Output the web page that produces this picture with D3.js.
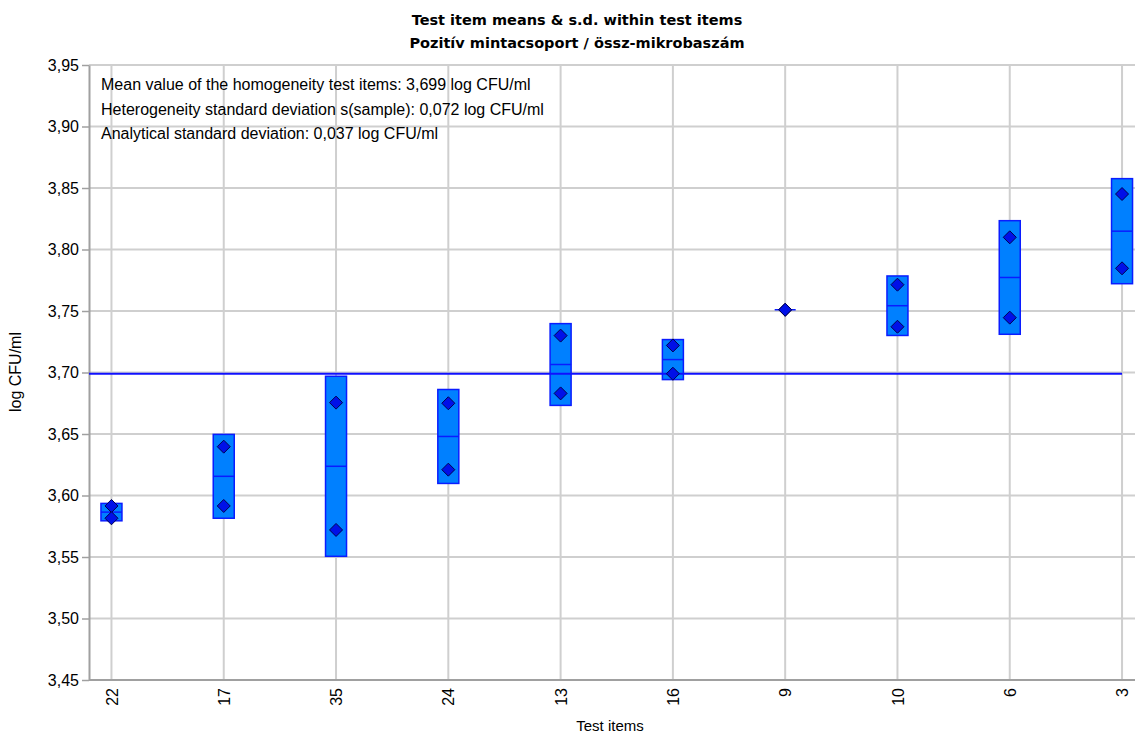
<!DOCTYPE html>
<html>
<head>
<meta charset="utf-8">
<script src="https://cdn.jsdelivr.net/npm/d3@7"></script>
<style>
  html, body { margin: 0; padding: 0; background: #fff; }
  svg { display: block; font-family: "Liberation Sans", Arial, sans-serif; }
</style>
</head>
<body>
<svg id="chart" width="1135" height="733"></svg>
<script>
// Test items in plotting order, with the two replicate results of each (log CFU/ml)
const items = ["22", "17", "35", "24", "13", "16", "9", "10", "6", "3"];
const replicateA = [3.5915, 3.6397, 3.6755, 3.675, 3.730, 3.722, 3.751, 3.7714, 3.8099, 3.8451];
const replicateB = [3.5815, 3.5915, 3.572, 3.621, 3.683, 3.699, 3.751, 3.7372, 3.7446, 3.7847];
const overallMean = 3.699;
const yTicks = [3.45, 3.50, 3.55, 3.60, 3.65, 3.70, 3.75, 3.80, 3.85, 3.90, 3.95];
const infoLines = [
  "Mean value of the homogeneity test items: 3,699 log CFU/ml",
  "Heterogeneity standard deviation s(sample): 0,072 log CFU/ml",
  "Analytical standard deviation: 0,037 log CFU/ml"
];
const titleLines = ["Test item means & s.d. within test items", "Pozitív mintacsoport / össz-mikrobaszám"];

const svg = d3.select("#chart");
const plotLeft = 89, plotRight = 1144.5, plotTop = 65, plotBottom = 680;

const x = d3.scalePoint().domain(items).range([plotLeft, plotRight]).padding(0.2);
const y = d3.scaleLinear().domain([3.45, 3.95]).range([plotBottom, plotTop]);
const fmt = v => d3.format(".2f")(v).replace(".", ",");

// per-item mean and standard deviation of the replicates
const stats = items.map((id, i) => {
  const vals = [replicateA[i], replicateB[i]];
  return { id, vals, mean: d3.mean(vals), sd: d3.deviation(vals) || 0 };
});

// grid
svg.append("g").selectAll("line").data(yTicks).join("line")
  .attr("x1", plotLeft).attr("x2", plotRight)
  .attr("y1", d => y(d)).attr("y2", d => y(d))
  .attr("stroke", "#cfcfcf").attr("stroke-width", 2);
svg.append("g").selectAll("line").data(items).join("line")
  .attr("x1", d => x(d)).attr("x2", d => x(d))
  .attr("y1", plotTop).attr("y2", plotBottom)
  .attr("stroke", "#cfcfcf").attr("stroke-width", 2);

// y axis
const yAxis = svg.append("g").attr("transform", `translate(${plotLeft},0)`)
  .call(d3.axisLeft(y).tickValues(yTicks).tickFormat(fmt).tickSizeInner(7).tickSizeOuter(0).tickPadding(3));
yAxis.select(".domain").attr("stroke", "#a0a0a0").attr("stroke-width", 2);
yAxis.selectAll(".tick line").attr("stroke", "#a0a0a0").attr("stroke-width", 1.5);
yAxis.selectAll("text").attr("font-size", 16).attr("fill", "#000")
  .attr("font-family", "'Liberation Sans', Arial, sans-serif");

// x axis
const xAxis = svg.append("g").attr("transform", `translate(0,${plotBottom})`)
  .call(d3.axisBottom(x).tickSize(0).tickPadding(0));
xAxis.select(".domain").attr("d", `M${plotLeft},0H${plotRight}`).attr("stroke", "#a0a0a0").attr("stroke-width", 2);
xAxis.selectAll("text")
  .attr("font-size", 16).attr("fill", "#000")
  .attr("font-family", "'Liberation Sans', Arial, sans-serif")
  .attr("text-anchor", "end")
  .attr("transform", "rotate(-90)")
  .attr("x", -8).attr("y", 0).attr("dy", "0.35em");

// boxes: mean ± s.d.
const boxW = 21;
const boxes = svg.append("g");
boxes.selectAll("rect").data(stats).join("rect")
  .attr("x", d => x(d.id) - boxW / 2).attr("width", boxW)
  .attr("y", d => y(d.mean + d.sd)).attr("height", d => y(d.mean - d.sd) - y(d.mean + d.sd))
  .attr("fill", "#0080ff").attr("stroke", "#0a1cff").attr("stroke-width", 1.5);
boxes.selectAll("line").data(stats).join("line")
  .attr("x1", d => x(d.id) - boxW / 2).attr("x2", d => x(d.id) + boxW / 2)
  .attr("y1", d => y(d.mean)).attr("y2", d => y(d.mean))
  .attr("stroke", "#0a1cff").attr("stroke-width", 1.5);

// overall mean line
svg.append("line")
  .attr("x1", plotLeft).attr("x2", x(items[items.length - 1]))
  .attr("y1", y(overallMean)).attr("y2", y(overallMean))
  .attr("stroke", "#1010ff").attr("stroke-width", 2);

// replicate results as diamonds
const pts = stats.flatMap(d => d.vals.map(v => ({ id: d.id, v })));
const dsz = 6.5;
svg.append("g").selectAll("path").data(pts).join("path")
  .attr("d", d => {
    const cx = x(d.id), cy = y(d.v);
    return `M${cx},${cy - dsz}L${cx + dsz},${cy}L${cx},${cy + dsz}L${cx - dsz},${cy}Z`;
  })
  .attr("fill", "#0010e8").attr("stroke", "#000050").attr("stroke-width", 1);

// info box text
svg.append("g").selectAll("text").data(infoLines).join("text")
  .attr("x", 101).attr("y", (d, i) => 90 + i * 24.5)
  .attr("font-size", 16).attr("fill", "#000").text(d => d);

// titles
svg.append("g").selectAll("text").data(titleLines).join("text")
  .attr("x", 577).attr("y", (d, i) => 25 + i * 23)
  .attr("text-anchor", "middle").attr("font-weight", "bold").attr("font-size", 14.5)
  .attr("font-family", "'DejaVu Sans', Verdana, sans-serif")
  .attr("fill", "#000").text(d => d);

// axis titles
svg.append("text")
  .attr("transform", `translate(21,372) rotate(-90)`)
  .attr("text-anchor", "middle").attr("font-size", 16).attr("fill", "#000")
  .text("log CFU/ml");
svg.append("text")
  .attr("x", 610).attr("y", 731)
  .attr("text-anchor", "middle").attr("font-size", 15).attr("fill", "#000")
  .text("Test items");
</script>
</body>
</html>
